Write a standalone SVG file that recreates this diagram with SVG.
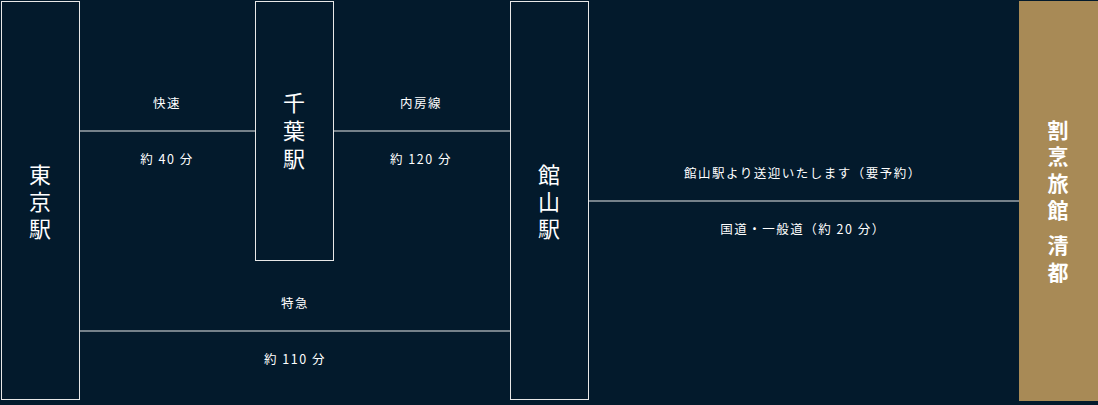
<svg xmlns="http://www.w3.org/2000/svg" width="1098" height="405" viewBox="0 0 1098 405">
<style>
.box{fill:#031a2c;stroke:#e8e8e8;stroke-width:1}
.ln{stroke:#e8e8e8;stroke-width:1}
.big{font-family:"Noto Sans CJK JP",sans-serif;font-size:22px;fill:#fff;text-anchor:middle}
.gold{font-family:"Noto Sans CJK JP",sans-serif;font-size:21px;font-weight:bold;fill:#fff;text-anchor:middle}
.lbl{font-family:"Noto Sans CJK JP",sans-serif;font-size:12.5px;fill:#fff;text-anchor:middle;letter-spacing:1.5px}
</style>
<rect width="1098" height="405" fill="#031a2c"/>
<g id="connectors">
<line class="ln" x1="79" y1="131" x2="255" y2="131"/>
<line class="ln" x1="334" y1="131" x2="510" y2="131"/>
<line class="ln" x1="79" y1="331" x2="510" y2="331"/>
<line class="ln" x1="589" y1="201" x2="1019" y2="201"/>
<text class="lbl" x="167" y="108">快速</text>
<text class="lbl" x="167" y="164">約 40 分</text>
<text class="lbl" x="421" y="108">内房線</text>
<text class="lbl" x="421" y="164">約 120 分</text>
<text class="lbl" x="295" y="308">特急</text>
<text class="lbl" x="295" y="364">約 110 分</text>
<text class="lbl" x="803" y="178">館山駅より送迎いたします（要予約）</text>
<text class="lbl" x="803" y="234">国道・一般道（約 20 分）</text>
</g>
<g id="tokyo">
<rect class="box" x="1.5" y="1.5" width="78" height="398"/>
<text class="big" x="40" y="183">東</text><text class="big" x="40" y="210">京</text><text class="big" x="40" y="237">駅</text>
</g>
<g id="chiba">
<rect class="box" x="255.5" y="1.5" width="78" height="259"/>
<text class="big" x="294" y="111">千</text><text class="big" x="294" y="139">葉</text><text class="big" x="294" y="167">駅</text>
</g>
<g id="tateyama">
<rect class="box" x="510.5" y="1.5" width="78" height="398"/>
<text class="big" x="549" y="183">館</text><text class="big" x="549" y="210">山</text><text class="big" x="549" y="237">駅</text>
</g>
<g id="seito">
<rect x="1019" y="1" width="79" height="400" fill="#a88a56"/>
<text class="gold" x="1058" y="138">割</text><text class="gold" x="1058" y="164">烹</text><text class="gold" x="1058" y="191">旅</text><text class="gold" x="1058" y="218">館</text>
<text class="gold" x="1058" y="253">清</text><text class="gold" x="1058" y="280">都</text>
</g>
</svg>
